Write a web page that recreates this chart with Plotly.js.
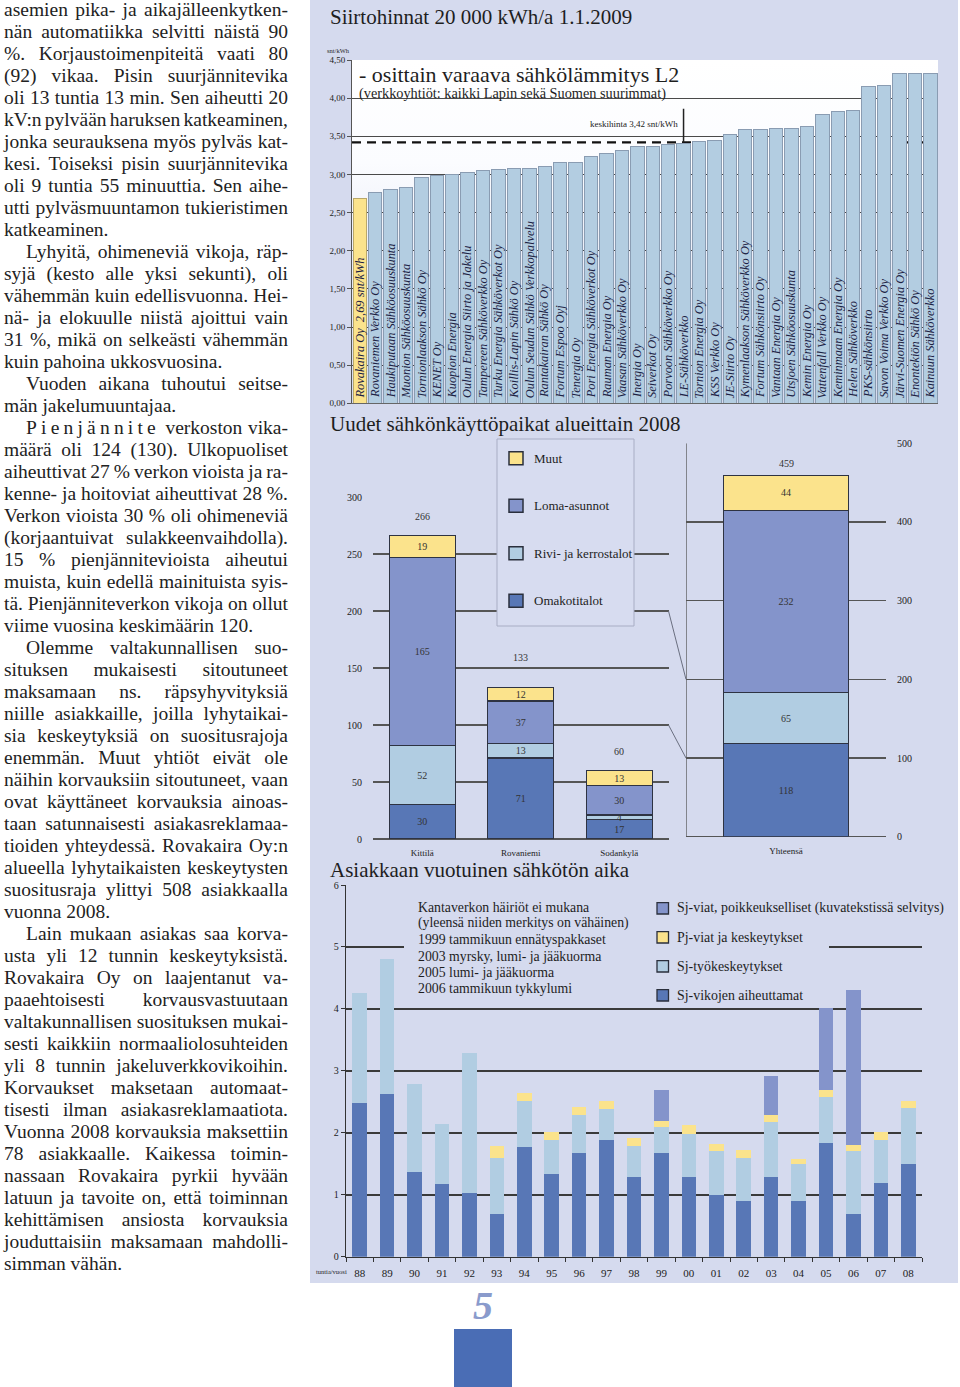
<!DOCTYPE html>
<html><head><meta charset="utf-8">
<script src="https://cdn.plot.ly/plotly-3.0.1.min.js"></script>
<style>
body{margin:0;width:960px;height:1387px;position:relative;overflow:hidden;background:#fff;font-family:"Liberation Serif","Times New Roman",serif;}
#panel{position:absolute;left:310px;top:0;width:648px;height:1283px;background:#d5daee;}
#grad{position:absolute;left:352px;top:60px;width:586px;height:343px;background:linear-gradient(#ffffff 0%,#fbfcff 30%,#e6e9f5 65%,#d5daee 100%);}
#plot{position:absolute;left:0;top:0;width:960px;height:1387px;}
#text{position:absolute;left:4px;top:-1px;width:284px;font-size:19.5px;line-height:22px;color:#222;}
.l{display:flex;justify-content:space-between;height:22px;white-space:nowrap;}
.e{height:22px;white-space:nowrap;}
.i{padding-left:22px;}
#pnum{position:absolute;left:455px;width:56px;top:1284px;text-align:center;font-size:40px;font-weight:bold;font-style:italic;color:#8a9bcc;line-height:44px;}
#pbox{position:absolute;left:454px;top:1329px;width:58px;height:58px;background:#4a6db5;}
</style></head>
<body>
<div id="panel"></div>
<div id="grad"></div>
<div id="text"></div>
<div id="plot"></div>
<div id="pnum">5</div>
<div id="pbox"></div>
<script>
// ---------- body text ----------
// j = justified, e = paragraph end, i = indented first line
const textLines = [
 ["j","asemien pika- ja aikajälleenkytken-"],
 ["j","nän automatiikka selvitti näistä 90"],
 ["j","%. Korjaustoimenpiteitä vaati 80"],
 ["j","(92) vikaa. Pisin suurjännitevika"],
 ["j","oli 13 tuntia 13 min. Sen aiheutti 20"],
 ["j","kV:n pylvään haruksen katkeaminen,"],
 ["j","jonka seurauksena myös pylväs kat-"],
 ["j","kesi. Toiseksi pisin suurjännitevika"],
 ["j","oli 9 tuntia 55 minuuttia. Sen aihe-"],
 ["j","utti pylväsmuuntamon tukieristimen"],
 ["e","katkeaminen."],
 ["ij","Lyhyitä, ohimeneviä vikoja, räp-"],
 ["j","syjä (kesto alle yksi sekunti), oli"],
 ["j","vähemmän kuin edellisvuonna. Hei-"],
 ["j","nä- ja elokuulle niistä ajoittui vain"],
 ["j","31 %, mikä on selkeästi vähemmän"],
 ["e","kuin pahoina ukkosvuosina."],
 ["ij","Vuoden aikana tuhoutui seitse-"],
 ["e","män jakelumuuntajaa."],
 ["ij","#Pienjännite verkoston vika-"],
 ["j","määrä oli 124 (130). Ulkopuoliset"],
 ["j","aiheuttivat 27 % verkon vioista ja ra-"],
 ["j","kenne- ja hoitoviat aiheuttivat 28 %."],
 ["j","Verkon vioista 30 % oli ohimeneviä"],
 ["j","(korjaantuivat sulakkeenvaihdolla)."],
 ["j","15 % pienjännitevioista aiheutui"],
 ["j","muista, kuin edellä mainituista syis-"],
 ["j","tä. Pienjänniteverkon vikoja on ollut"],
 ["e","viime vuosina keskimäärin 120."],
 ["ij","Olemme valtakunnallisen suo-"],
 ["j","situksen mukaisesti sitoutuneet"],
 ["j","maksamaan ns. räpsyhyvityksiä"],
 ["j","niille asiakkaille, joilla lyhytaikai-"],
 ["j","sia keskeytyksiä on suositusrajoja"],
 ["j","enemmän. Muut yhtiöt eivät ole"],
 ["j","näihin korvauksiin sitoutuneet, vaan"],
 ["j","ovat käyttäneet korvauksia ainoas-"],
 ["j","taan satunnaisesti asiakasreklamaa-"],
 ["j","tioiden yhteydessä. Rovakaira Oy:n"],
 ["j","alueella lyhytaikaisten keskeytysten"],
 ["j","suositusraja ylittyi 508 asiakkaalla"],
 ["e","vuonna 2008."],
 ["ij","Lain mukaan asiakas saa korva-"],
 ["j","usta yli 12 tunnin keskeytyksistä."],
 ["j","Rovakaira Oy on laajentanut va-"],
 ["j","paaehtoisesti korvausvastuutaan"],
 ["j","valtakunnallisen suosituksen mukai-"],
 ["j","sesti kaikkiin normaaliolosuhteiden"],
 ["j","yli 8 tunnin jakeluverkkovikoihin."],
 ["j","Korvaukset maksetaan automaat-"],
 ["j","tisesti ilman asiakasreklamaatiota."],
 ["j","Vuonna 2008 korvauksia maksettiin"],
 ["j","78 asiakkaalle. Kaikessa toimin-"],
 ["j","nassaan Rovakaira pyrkii hyvään"],
 ["j","latuun ja tavoite on, että toiminnan"],
 ["j","kehittämisen ansiosta korvauksia"],
 ["j","jouduttaisiin maksamaan mahdolli-"],
 ["e","simman vähän."]
];
(function(){
  const box = document.getElementById('text');
  textLines.forEach(([k,t])=>{
    const d = document.createElement('div');
    if(k.indexOf('e')>=0){ d.className='e'; d.textContent=t; }
    else {
      d.className='l';
      t.split(/\s+/).forEach(w=>{
        const s=document.createElement('span');
        if(w[0]==='#'){ s.textContent=w.slice(1); s.style.letterSpacing='4.2px'; }
        else s.textContent=w;
        d.appendChild(s);
      });
    }
    if(k.indexOf('i')>=0) d.classList.add('i');
    box.appendChild(d);
  });
})();

// ---------- chart 1: Siirtohinnat ----------
const companies = ["Rovakaira Oy","Rovaniemen Verkko Oy","Haukiputaan Sähköosuuskunta","Muonion Sähköosuuskunta","Tornionlaakson Sähkö Oy","KENET Oy","Kuopion Energia","Oulun Energia Siirto ja Jakelu","Tampereen Sähköverkko Oy","Turku Energia Sähköverkot Oy","Koillis-Lapin Sähkö Oy","Oulun Seudun Sähkö Verkkopalvelu","Rantakairan Sähkö Oy","Fortum Espoo Oyj","Tenergia Oy","Pori Energia Sähköverkot Oy","Rauman Energia Oy","Vaasan Sähköverkko Oy","Inergia Oy","Seiverkot Oy","Porvoon Sähköverkko Oy","LE-Sähköverkko","Tornion Energia Oy","KSS Verkko Oy","JE-Siirto Oy","Kymenlaakson Sähköverkko Oy","Fortum Sähkönsiirto Oy","Vantaan Energia Oy","Utsjoen Sähköosuuskunta","Kemin Energia Oy","Vattenfall Verkko Oy","Keminmaan Energia Oy","Helen Sähköverkko","PKS-sähkönsiirto","Savon Voima Verkko Oy","Järvi-Suomen Energia Oy","Enontekiön Sähkö Oy","Kainuun Sähköverkko"];
const prices = [2.69,2.76,2.80,2.83,2.96,2.98,3.00,3.03,3.05,3.07,3.08,3.08,3.11,3.15,3.16,3.23,3.27,3.32,3.36,3.36,3.39,3.41,3.43,3.44,3.53,3.59,3.59,3.60,3.60,3.63,3.79,3.83,3.84,4.15,4.17,4.32,4.32,4.32];
const priceTicks = [0,0.5,1,1.5,2,2.5,3,3.5,4,4.5];
const avgPrice = 3.42;
const avgMarkerCompany = "LE-Sähköverkko";
const avgMarkerTop = 3.86;

// ---------- chart 2: Uudet sähkönkäyttöpaikat ----------
const regions = ["Kittilä","Rovaniemi","Sodankylä"];
const omakoti = [30,71,17];
const rivi = [52,13,4];
const loma = [165,37,26];     // drawn height (printed label 30)
const muut = [19,12,13];
const omakotiLbl = ["30","71","17"];
const riviLbl = ["52","13","4"];
const lomaLbl = ["165","37","30"];
const muutLbl = ["19","12","13"];
const totalCat = ["Yhteensä"];
const totalVals = [118,65,232,44]; // omakoti, rivi, loma, muut
const connectorLevels = [200,100];

// ---------- chart 3: Asiakkaan vuotuinen sähkötön aika ----------
const years = ["88","89","90","91","92","93","94","95","96","97","98","99","00","01","02","03","04","05","06","07","08"];
const sjVikojen = [2.48,2.62,1.37,1.17,1.03,0.69,1.77,1.33,1.68,1.89,1.29,1.68,1.29,1.00,0.90,1.29,0.90,1.83,0.69,1.19,1.50];
const sjTyo = [1.77,2.18,1.42,0.97,2.26,0.90,0.75,0.55,0.60,0.50,0.50,0.41,0.69,0.70,0.69,0.89,0.59,0.75,1.01,0.69,0.90];
const pjViat = [null,null,null,null,null,0.20,0.13,0.14,0.13,0.13,0.13,0.10,0.14,0.12,0.13,0.11,0.08,0.11,0.10,0.13,0.12];
const sjPoikk = [null,null,null,null,null,null,null,null,null,null,null,0.50,null,null,null,0.62,null,1.32,2.51,null,null];
const noteLines = ["Kantaverkon häiriöt ei mukana","(yleensä niiden merkitys on vähäinen)","1999 tammikuun ennätyspakkaset","2003 myrsky, lumi- ja jääkuorma","2005 lumi- ja jääkuorma","2006 tammikuun tykkylumi"];

// ---------- styling ----------
const FONT = "Liberation Serif, Times New Roman, serif";
const PANEL = "#d5daee";
const C_DARK = "#5877b6", C_LIGHT = "#b1cde2", C_LOMA = "#8494cb", C_YEL = "#fbe38c";
const C_BAR1 = "#b3cde1";
const W=960, H=1387;
const px = x => x/W, py = y => 1 - y/H;
const mapY = (D,R,v) => D[0] + (v-R[0])/(R[1]-R[0])*(D[1]-D[0]);

const D1=[py(403.3),py(60)], D2=[py(839),py(497)], R2=[0,300], D3=[py(836.7),py(443.3)], R3=[0,500], D4=[py(1256.7),py(885)];

const traces = [];
// chart 1
traces.push({type:'bar', x:companies, y:prices, xaxis:'x', yaxis:'y', width:0.87,
  marker:{color:companies.map((c,i)=>i===0?C_YEL:C_BAR1), line:{color:companies.map((c,i)=>i===0?'#b9a86a':'#8a9cb2'), width:1}},
  hoverinfo:'skip'});
// chart 2 left
const seg = (y,lbl,col,name,xa,ya,xs,w) => ({type:'bar', x:xs, y:y, text:lbl, textposition:'inside', insidetextanchor:'middle',
  constraintext:'none', textangle:0, textfont:{family:FONT,size:10,color:'#333'}, name:name, xaxis:xa, yaxis:ya, width:w,
  marker:{color:col, line:{color:'#2e3342', width:1.2}}, hoverinfo:'skip', showlegend:false});
traces.push(seg(omakoti,omakotiLbl,C_DARK,'Omakotitalot','x2','y2',regions,0.67));
traces.push(seg(rivi,riviLbl,C_LIGHT,'Rivi- ja kerrostalot','x2','y2',regions,0.67));
traces.push(seg(loma,lomaLbl,C_LOMA,'Loma-asunnot','x2','y2',regions,0.67));
traces.push(seg(muut,muutLbl,C_YEL,'Muut','x2','y2',regions,0.67));
// chart 2 right
[C_DARK,C_LIGHT,C_LOMA,C_YEL].forEach((c,i)=>{
  traces.push(seg([totalVals[i]],[String(totalVals[i])],c,'t'+i,'x3','y3',totalCat,0.625));
});
// chart 3
const seg3 = (y,col) => ({type:'bar', x:years, y:y, xaxis:'x4', yaxis:'y4', width:0.53,
  marker:{color:col, line:{width:0}}, hoverinfo:'skip', showlegend:false});
traces.push(seg3(sjVikojen,C_DARK));
traces.push(seg3(sjTyo,C_LIGHT));
traces.push(seg3(pjViat,C_YEL));
traces.push(seg3(sjPoikk,C_LOMA));

const ann = [];
const shapes = [];
const txt = (x,y,t,size,o) => Object.assign({xref:'paper',yref:'paper',x:px(x),y:py(y),text:t,showarrow:false,
  xanchor:'left',yanchor:'middle',font:{family:FONT,size:size,color:'#1e1e1e'}},o||{});

// titles
ann.push(txt(328,17,"Siirtohinnat 20 000 kWh/a 1.1.2009",21));
ann.push(txt(328,424,"Uudet sähkönkäyttöpaikat alueittain 2008",21));
ann.push(txt(328,870,"Asiakkaan vuotuinen sähkötön aika",21));

// chart 1 extras
ann.push(txt(338,50,"snt/kWh",6.5,{xanchor:'center'}));
ann.push(txt(357,74.5,"- osittain varaava sähkölämmitys L2",22));
ann.push(txt(357,93.5,"(verkkoyhtiöt: kaikki Lapin sekä Suomen suurimmat)",14.3));
companies.forEach((c,i)=>{
  const lbl = i===0 ? c + '  ' + prices[i].toFixed(2).replace('.',',') + ' snt/kWh' : c;
  ann.push({xref:'x',yref:'y',x:c,y:0,text:'<i>'+lbl+'</i>',textangle:-90,showarrow:false,xanchor:'center',yanchor:'bottom',
    yshift:3,font:{family:FONT,size:12.4,color:'#1c2244'}});
});
shapes.push({type:'line',xref:'x',yref:'y',x0:-0.5,x1:companies.length-0.9,y0:avgPrice,y1:avgPrice,layer:'below',
  line:{color:'#111',width:2.2,dash:'9px,6px'}});
shapes.push({type:'line',xref:'x',yref:'y',x0:avgMarkerCompany,x1:avgMarkerCompany,y0:avgPrice,y1:avgMarkerTop,
  line:{color:'#222',width:1.5}});
ann.push({xref:'x',yref:'y',x:avgMarkerCompany,y:(avgPrice+avgMarkerTop)/2+0.02,text:'keskihinta '+avgPrice.toFixed(2).replace('.',',')+' snt/kWh',
  showarrow:false,xanchor:'right',yanchor:'middle',xshift:-4,font:{family:FONT,size:9,color:'#222'}});

// chart 2 extras
const sums = regions.map((r,i)=>omakoti[i]+rivi[i]+loma[i]+muut[i]);
const pxPerUnit2 = (839-497)/(R2[1]-R2[0]);
const grid2 = 50;
regions.forEach((r,i)=>{
  const nextGrid = Math.ceil(sums[i]/grid2)*grid2;
  const gapPx = (nextGrid - sums[i])*pxPerUnit2;
  // keep the total label clear of the gridline just above the bar
  const a = gapPx < 26
    ? {y:nextGrid, yanchor:'middle', yshift:10}
    : {y:sums[i], yanchor:'bottom', yshift:12};
  ann.push(Object.assign({xref:'x2',yref:'y2',x:r,text:String(sums[i]),showarrow:false,
    font:{family:FONT,size:10,color:'#333'}},a));
});
const grand = totalVals.reduce((a,b)=>a+b,0);
ann.push({xref:'x3',yref:'y3',x:totalCat[0],y:grand,text:String(grand),showarrow:false,yanchor:'bottom',yshift:5,
  font:{family:FONT,size:10,color:'#333'}});
shapes.push({type:'line',xref:'x3',yref:'y3',x0:-0.5,x1:-0.5,y0:R3[0],y1:R3[1],line:{color:'#555',width:1.3}});
connectorLevels.forEach(v=>{
  shapes.push({type:'line',xref:'paper',yref:'paper',x0:px(668.5),x1:px(686),y0:mapY(D2,R2,v),y1:mapY(D3,R3,v),
    line:{color:'#6a6f80',width:1}});
});
// legend box chart 2
shapes.push({type:'rect',xref:'paper',yref:'paper',x0:px(497),x1:px(634),y0:py(439),y1:py(626),
  fillcolor:'#d7dcf0',line:{color:'#a8adc4',width:1},layer:'above'});
const leg2 = [["Muut",C_YEL],["Loma-asunnot",C_LOMA],["Rivi- ja kerrostalot",C_LIGHT],["Omakotitalot",C_DARK]];
leg2.forEach(([n,c],i)=>{
  const yc = 458.3 + i*47.5;
  shapes.push({type:'rect',xref:'paper',yref:'paper',x0:px(509),x1:px(523),y0:py(yc-6.5),y1:py(yc+6.5),
    fillcolor:c,line:{color:'#2a2f3c',width:1.5},layer:'above'});
  ann.push(txt(532,yc,n,13));
});

// chart 3 extras
shapes.push({type:'rect',xref:'paper',yref:'paper',x0:px(404),x1:px(829),y0:py(893),y1:py(1003),
  fillcolor:PANEL,line:{width:0},layer:'above'});
noteLines.forEach((t,i)=>ann.push(txt(416,907+i*16.35,t,13.8)));
const leg3 = [["Sj-viat, poikkeukselliset (kuvatekstissä selvitys)",C_LOMA],["Pj-viat ja keskeytykset",C_YEL],["Sj-työkeskeytykset",C_LIGHT],["Sj-vikojen aiheuttamat",C_DARK]];
leg3.forEach(([n,c],i)=>{
  const yc = 908.3 + i*29;
  shapes.push({type:'rect',xref:'paper',yref:'paper',x0:px(657),x1:px(668.5),y0:py(yc-5.7),y1:py(yc+5.7),
    fillcolor:c,line:{color:'#2a2f3c',width:1.3},layer:'above'});
  ann.push(txt(675,yc,n,13.9));
});
ann.push(txt(331,1271,"tuntia/vuosi",6.5,{xanchor:'center'}));

const layout = {
  width:W, height:H, margin:{l:0,r:0,t:0,b:0}, paper_bgcolor:'rgba(0,0,0,0)', plot_bgcolor:'rgba(0,0,0,0)',
  showlegend:false, barmode:'stack', hovermode:false, font:{family:FONT,color:'#222'},
  xaxis:{domain:[px(352),px(938)], anchor:'y', type:'category', range:[-0.5,companies.length-0.5], showticklabels:false,
    ticks:'', showgrid:false, showline:true, linecolor:'#666', linewidth:1, zeroline:false, fixedrange:true},
  yaxis:{domain:D1, anchor:'x', range:[0,4.5], tickvals:priceTicks, ticktext:priceTicks.map(v=>v.toFixed(2).replace('.',',')),
    showgrid:true, gridcolor:'#4a4a4a', gridwidth:1, showline:true, linecolor:'#555', linewidth:1, ticks:'outside', ticklen:4,
    tickcolor:'#555', tickfont:{size:9,family:FONT,color:'#222'}, zeroline:false, fixedrange:true},
  xaxis2:{domain:[px(373),px(668.5)], anchor:'y2', type:'category', range:[-0.5,2.5], ticks:'outside', ticklen:5,
    tickcolor:'rgba(0,0,0,0)', showgrid:false, showline:false, zeroline:false, tickfont:{size:9,family:FONT,color:'#222'}},
  yaxis2:{domain:D2, anchor:'x2', range:R2, dtick:50, showgrid:true, gridcolor:'#555', gridwidth:1.4, zeroline:true,
    zerolinecolor:'#555', zerolinewidth:1.4, showline:false, ticks:'outside', ticklen:8, tickcolor:'rgba(0,0,0,0)',
    tickfont:{size:10,family:FONT,color:'#222'}},
  xaxis3:{domain:[px(686),px(886)], anchor:'y3', type:'category', range:[-0.5,0.5], ticks:'outside', ticklen:5,
    tickcolor:'rgba(0,0,0,0)', showgrid:false, showline:false, zeroline:false, tickfont:{size:9,family:FONT,color:'#222'}},
  yaxis3:{domain:D3, anchor:'x3', side:'right', range:R3, dtick:100, showgrid:true, gridcolor:'#555', gridwidth:1.4,
    zeroline:true, zerolinecolor:'#555', zerolinewidth:1.4, showline:false, ticks:'outside', ticklen:8,
    tickcolor:'rgba(0,0,0,0)', tickfont:{size:10,family:FONT,color:'#222'}},
  xaxis4:{domain:[px(346),px(922)], anchor:'y4', type:'category', range:[-0.5,years.length-0.5], ticks:'outside',
    tickson:'boundaries', ticklen:4, tickcolor:'#333', showline:true, linecolor:'#333', linewidth:1.3, showgrid:false,
    zeroline:false, ticklabelstandoff:6, tickfont:{size:11,family:FONT,color:'#222'}},
  yaxis4:{domain:D4, anchor:'x4', range:[0,6], dtick:1, showgrid:true, gridcolor:'#3a3a3a', gridwidth:1.5,
    zeroline:false, showline:true, linecolor:'#333', linewidth:1.3, ticks:'outside', ticklen:4, tickcolor:'#333',
    tickfont:{size:10,family:FONT,color:'#222'}},
  annotations:ann, shapes:shapes
};
Plotly.newPlot('plot', traces, layout, {displayModeBar:false, staticPlot:true});
</script>
</body></html>
